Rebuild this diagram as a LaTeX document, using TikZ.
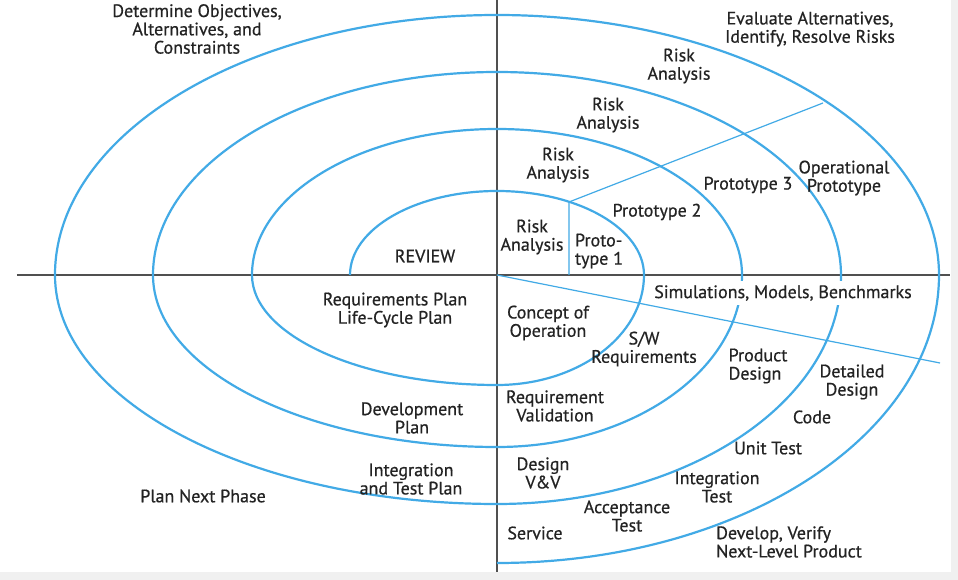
\documentclass[tikz,border=0pt]{standalone}
\usepackage{fontspec}
\setmainfont{PT Sans}
\newfontfamily\lblfont[FakeBold=0.6]{PT Sans}
\begin{document}
\begin{tikzpicture}[x=1pt,y=1pt,
  spiral/.style={draw=spblue,line width=2.2pt},
  thinblue/.style={draw=spblue,line width=1.2pt},
  axis/.style={draw=axgray,line width=1.6pt},
  lbl/.style={font=\lblfont\fontsize{18}{18.3}\selectfont,text=txt,align=center,inner sep=0pt},
  lbll/.style={lbl,align=left}]
\definecolor{spblue}{RGB}{66,170,230}
\definecolor{axgray}{RGB}{80,80,80}
\definecolor{txt}{RGB}{35,35,35}
\useasboundingbox (-497,-305) rectangle (461,275);
\fill[white] (-497,-305) rectangle (461,275);
\fill[black!6] (-497,-305) rectangle (461,-297);
\fill[black!6] (454,-305) rectangle (461,275);
% axes
\coordinate (hl) at (-480,0);
\coordinate (hr) at (453,0);
\coordinate (vt) at (0,275);
\coordinate (vb) at (0,-297);
\coordinate (o) at (0,0);
\draw[axis] (hl) -- (hr);
\draw[axis] (vt) -- (vb);
% spiral
\draw[spiral] (-147,0)
  arc[start angle=180,end angle=90,x radius=147,y radius=84]
  arc[start angle=90,end angle=0,x radius=147,y radius=84]
  arc[start angle=0,end angle=-90,x radius=147,y radius=110]
  arc[start angle=270,end angle=180,x radius=245,y radius=110]
  arc[start angle=180,end angle=90,x radius=245,y radius=146]
  arc[start angle=90,end angle=0,x radius=245,y radius=146]
  arc[start angle=0,end angle=-90,x radius=245,y radius=172]
  arc[start angle=270,end angle=180,x radius=344,y radius=172]
  arc[start angle=180,end angle=90,x radius=344,y radius=203]
  arc[start angle=90,end angle=0,x radius=344,y radius=203]
  arc[start angle=0,end angle=-90,x radius=344,y radius=229]
  arc[start angle=270,end angle=180,x radius=442,y radius=229]
  arc[start angle=180,end angle=90,x radius=442,y radius=260]
  arc[start angle=90,end angle=0,x radius=442,y radius=260]
  arc[start angle=0,end angle=-90,x radius=442,y radius=288];
% prototype lines
\coordinate (p0) at (72,0);
\coordinate (p1) at (72,73);
\coordinate (p2) at (326,172);
\coordinate (d1) at (443,-88);
\draw[thinblue] (p0) -- (p1) -- (p2);
\draw[thinblue] (o) -- (d1);
% labels
\node[lbl] (obj) at (-300,246) {Determine Objectives,\\Alternatives, and\\Constraints};
\node[lbl] (eval) at (313,246) {Evaluate Alternatives,\\Identify, Resolve Risks};
\node[lbl] (ra1) at (182,209) {Risk\\Analysis};
\node[lbl] (ra2) at (111,160) {Risk\\Analysis};
\node[lbl] (ra3) at (61,110) {Risk\\Analysis};
\node[lbl] (ra4) at (35,38) {Risk\\Analysis};
\node[lbll] (pt1) at (102,24) {Proto-\\type 1};
\node[lbl] (pt2) at (160,63) {Prototype 2};
\node[lbl] (pt3) at (251,90) {Prototype 3};
\node[lbl] (opt) at (347,97) {Operational\\Prototype};
\node[lbl] (rev) at (-72,19) {REVIEW};
\node[lbl] (rp) at (-102,-35) {Requirements Plan\\Life-Cycle Plan};
\node[lbl] (dp) at (-85,-143) {Development\\Plan};
\node[lbl] (itp) at (-86,-204) {Integration\\and Test Plan};
\node[lbl] (pnp) at (-294,-221) {Plan Next Phase};
\node[lbl,fill=white,inner xsep=3pt,inner ysep=4pt] (smb) at (286,-18) {Simulations, Models, Benchmarks};
\node[lbl] (coo) at (51,-48) {Concept of\\Operation};
\node[lbl] (swr) at (147,-74) {S/W\\Requirements};
\node[lbll] (pd) at (261,-91) {Product\\Design};
\node[lbl] (dd) at (355,-107) {Detailed\\Design};
\node[lbl] (code) at (315,-142) {Code};
\node[lbl] (ut) at (271,-173) {Unit Test};
\node[lbl] (rv) at (58,-131) {Requirement\\Validation};
\node[lbl] (dvv) at (46,-198) {Design\\V\&V};
\node[lbl] (it) at (220,-212) {Integration\\Test};
\node[lbl] (at) at (130,-241) {Acceptance\\Test};
\node[lbl] (svc) at (38,-258) {Service};
\node[lbll] (dev) at (292,-267) {Develop, Verify\\Next-Level Product};
\end{tikzpicture}
\end{document}
